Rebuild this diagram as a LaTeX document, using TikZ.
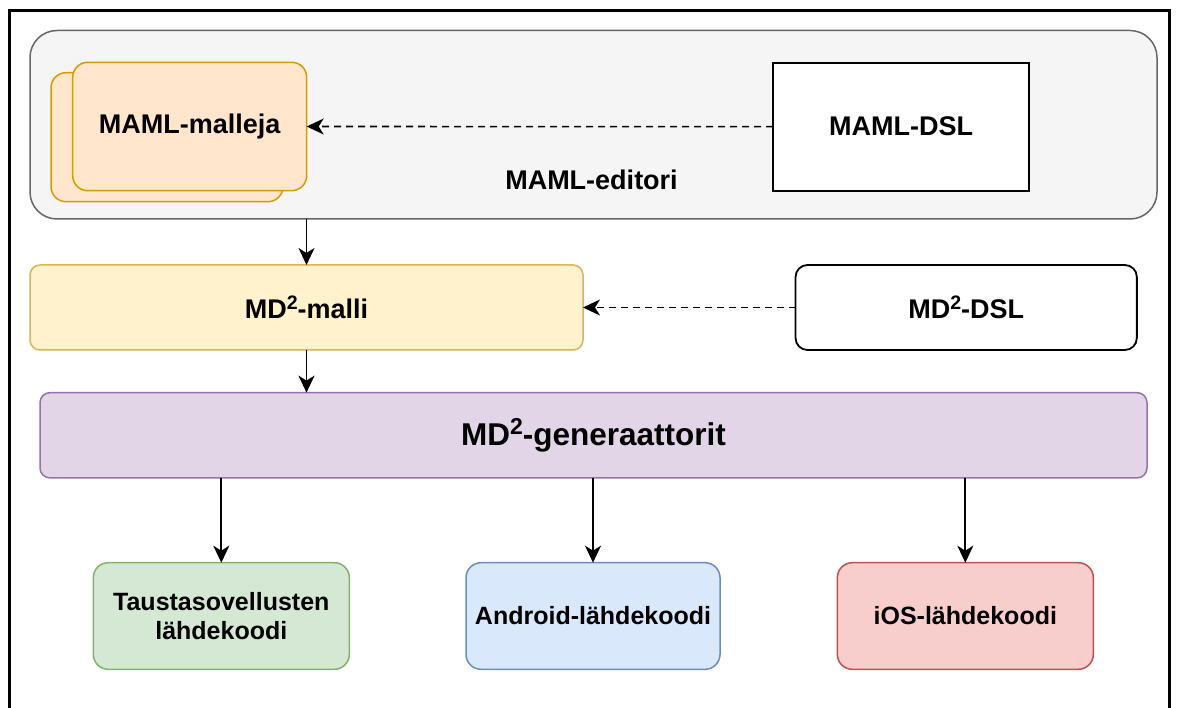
\documentclass[tikz,border=0pt]{standalone}
\usepackage{fontspec}
\setmainfont{Liberation Sans}
\usetikzlibrary{arrows.meta}

\definecolor{edfill}{HTML}{F5F5F5}
\definecolor{edline}{HTML}{666666}
\definecolor{orfill}{HTML}{FFE6CC}
\definecolor{orline}{HTML}{D79B00}
\definecolor{yefill}{HTML}{FFF2CC}
\definecolor{yeline}{HTML}{D6B656}
\definecolor{pufill}{HTML}{E1D5E7}
\definecolor{puline}{HTML}{9673A6}
\definecolor{grfill}{HTML}{D5E8D4}
\definecolor{grline}{HTML}{82B366}
\definecolor{blfill}{HTML}{DAE8FC}
\definecolor{blline}{HTML}{6C8EBF}
\definecolor{refill}{HTML}{F8CECC}
\definecolor{reline}{HTML}{B85450}

% raised, smaller "2" of MD2
\newcommand{\mdtwo}[2]{\raisebox{#2}{\fontsize{#1}{#1}\selectfont 2}}

\begin{document}
\begin{tikzpicture}[x=1pt,y=-1pt,
  every node/.style={inner sep=0pt, outer sep=0pt, align=center, text=black,
    font=\bfseries\fontsize{27}{31}\selectfont},
  boxbase/.style={draw, line width=1.5pt, rectangle},
  editorbox/.style={boxbase, fill=edfill, draw=edline, rounded corners=27pt},
  mamlbox/.style={boxbase, fill=orfill, draw=orline, rounded corners=15pt},
  dslbox/.style={boxbase, fill=white, draw=black, line width=2pt},
  modelbox/.style={boxbase, fill=yefill, draw=yeline, rounded corners=10pt},
  genbox/.style={boxbase, fill=pufill, draw=puline, rounded corners=10pt},
  codebox/.style={boxbase, rounded corners=15pt, minimum width=256pt, minimum height=106.6pt,
    font=\bfseries\fontsize{25}{28.5}\selectfont},
  arr/.style={line width=1.9pt, -{Stealth[length=17pt, width=16pt, inset=5pt]}},
  dasharr/.style={arr, line width=1.6pt, dash pattern=on 7pt off 5pt},
]
\useasboundingbox (0,0) rectangle (1178,708);
\fill[white] (0,0) rectangle (1178,708);

% outer frame, open at the bottom edge
\draw[line width=2.6pt] (9.7,720) -- (9.7,10.6) -- (1169.5,10.6) -- (1169.5,720);

% MAML editor container
\node[editorbox, minimum width=1127pt, minimum height=188.5pt] (ed) at (593.5,124.75) {};
\node (edlabel) at (591.5,180) {MAML-editori};

% stacked MAML model boxes
\node[mamlbox, minimum width=232pt, minimum height=129pt] (mback) at (167,137.2) {};
\node[mamlbox, minimum width=234pt, minimum height=128.4pt] (mfront) at (189.7,126.5) {MAML-malleja};

\node[dslbox, minimum width=256.3pt, minimum height=128pt] (mdsl) at (901.2,126.7) {MAML-DSL};

% MD2 model and DSL
\node[modelbox, minimum width=553pt, minimum height=85pt] (md) at (306.5,307.5)
  {MD\mdtwo{19.5}{8.5pt}-malli};
\node[dslbox, rounded corners=12pt, line width=1.8pt, minimum width=341.3pt, minimum height=85pt] (mddsl) at (966.2,307.5)
  {MD\mdtwo{19.5}{8.5pt}-DSL};

% generators
\node[genbox, minimum width=1107pt, minimum height=85.3pt, font=\bfseries\fontsize{31.5}{36}\selectfont] (gen) at (593.5,435.3)
  {MD\mdtwo{23}{10.5pt}-generaattorit};

% generated source code
\node[codebox, fill=grfill, draw=grline] (back) at (221.3,616) {Taustasovellusten\\lähdekoodi};
\node[codebox, fill=blfill, draw=blline, minimum width=254pt] (andr) at (593,616) {Android-lähdekoodi};
\node[codebox, fill=refill, draw=reline] (ios) at (965.3,616) {iOS-lähdekoodi};

% connectors
\draw[dasharr] (mdsl.west) -- (mfront.east);
\draw[dasharr] (mddsl.west) -- (md.east);
\draw[arr] (ed.south -| md.north) -- (md.north);
\draw[arr] (md.south) -- (gen.north -| md.south);
\draw[arr] (gen.south -| back.north) -- (back.north);
\draw[arr] (gen.south -| andr.north) -- (andr.north);
\draw[arr] (gen.south -| ios.north) -- (ios.north);
\end{tikzpicture}
\end{document}
